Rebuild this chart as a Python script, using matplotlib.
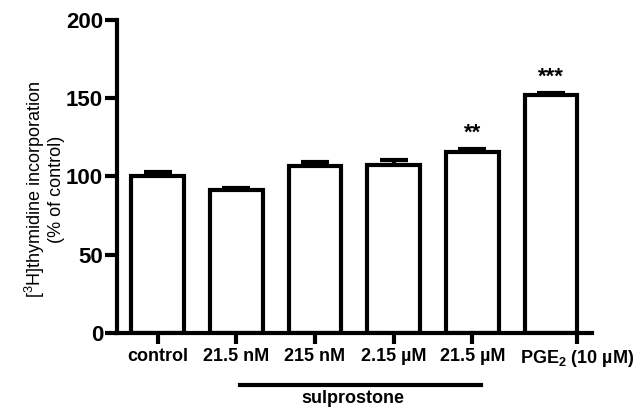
import numpy as np
import matplotlib.pyplot as plt
import matplotlib.transforms as mtransforms

plt.rcParams['font.family'] = ['Liberation Sans', 'DejaVu Sans']
plt.rcParams['mathtext.default'] = 'regular'

# Dados
grupos = ["control", "21.5 nM", "215 nM", "2.15 \u00b5M", "21.5 \u00b5M", "PGE$_2$ (10 \u00b5M)"]
valores = [100, 91.3, 106.5, 107.5, 115.5, 152]
erros = [3, 1.2, 2.7, 3.2, 2.0, 1.5]
marcas = ["", "", "", "", "**", "***"]

x = np.arange(len(grupos))
largura = 0.67

fig = plt.figure(figsize=(6.43, 4.08), dpi=100)
ax = fig.add_axes([0.182, 0.184, 0.738, 0.767])

ax.errorbar(x, valores, yerr=[np.zeros(len(erros)), erros], fmt="none",
            ecolor="black", elinewidth=3, capsize=10, capthick=3, zorder=1)
ax.bar(x, valores, width=largura, color="white", edgecolor="black",
       linewidth=3, zorder=2)

for xi, v, e, m in zip(x, valores, erros, marcas):
    if m:
        ax.text(xi, v + e + 10, m, ha="center", va="center",
                fontsize=16, fontweight="bold")

ax.set_xlim(-0.517, 5.515)
ax.set_ylim(0, 200)
ax.set_yticks([0, 50, 100, 150, 200])

# o rótulo do PGE2 fica na borda direita da barra
pos_ticks = list(x[:-1]) + [x[-1] + largura / 2]
ax.set_xticks(pos_ticks)
ax.set_xticklabels(grupos, fontsize=13, fontweight="bold")

for s in ["top", "right"]:
    ax.spines[s].set_visible(False)
for s in ["left", "bottom"]:
    ax.spines[s].set_linewidth(3)

ax.tick_params(axis="y", length=9, width=3, labelsize=16, pad=1)
ax.tick_params(axis="x", length=8, width=3, pad=3)
for lab in ax.get_yticklabels():
    lab.set_fontweight("bold")

ax.set_ylabel("[$^3$H]thymidine incorporation\n(% of control)", fontsize=13,
              linespacing=1.1)
ax.yaxis.set_label_coords(-0.11, 0.46)

# barra do sulprostone
trans = mtransforms.blended_transform_factory(ax.transData, ax.transAxes)
ax.plot([1.04, 4.11], [-0.165, -0.165], color="black", linewidth=3,
        transform=trans, clip_on=False)
ax.text(2.475, -0.208, "sulprostone", transform=trans, ha="center",
        va="center", fontsize=13, fontweight="bold")

fig.savefig("out.png", dpi=100)
